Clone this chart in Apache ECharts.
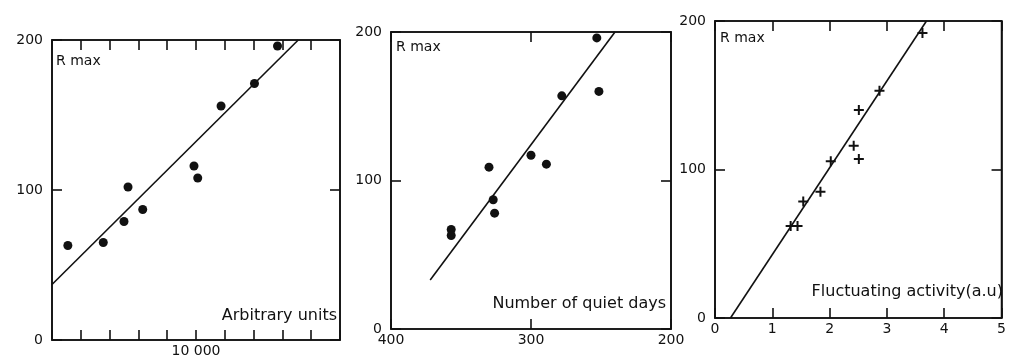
<!DOCTYPE html>
<html>
<head>
<meta charset="utf-8">
<script src="https://cdn.jsdelivr.net/npm/echarts@6/dist/echarts.min.js"></script>
<style>
  html, body { margin: 0; padding: 0; background: #fff; }
  #chart { width: 1009px; height: 358px; }
</style>
</head>
<body>
<div id="chart"></div>
<script>
// Panel A: R max against activity in arbitrary units
const arbUnits = [5550, 6780, 7500, 7640, 8150, 9930, 10060, 10870, 12030, 12830];
const rmaxA    = [63, 65, 79, 102, 87, 116, 108, 156, 171, 196];
const fitA     = [[5000, 37], [13550, 200]];

// Panel B: R max against number of quiet days (axis runs 400 -> 200)
const quietDays = [357, 357, 330, 327, 326, 300, 289, 278, 253, 251.5];
const rmaxB     = [67, 63, 109, 87, 78, 117, 111, 157, 196, 160];
const fitB      = [[372, 33], [240, 200]];

// Panel C: R max against fluctuating activity
const fluct = [1.32, 1.44, 1.54, 1.84, 2.02, 2.42, 2.51, 2.51, 2.87, 3.62];
const rmaxC = [62, 62, 78.5, 85, 105.5, 116, 140, 107, 153, 192];
const fitC  = [[0.27, 0], [3.69, 200]];

const yTicks = [0, 100, 200];
const xTicksA = { min: 5000, max: 15000, step: 1000, labelled: [10000] };
const xTicksB = { min: 200, max: 400, step: 100 };
const xTicksC = { min: 0, max: 5, step: 1 };

const ink = '#111';
const font = 'DejaVu Sans';
const plus = 'path://M4,0 L6,0 L6,4 L10,4 L10,6 L6,6 L6,10 L4,10 L4,6 L0,6 L0,4 L4,4 Z';

const pair = (xs, ys) => xs.map((x, i) => [x, ys[i]]);

function axisBase() {
  return {
    type: 'value',
    splitLine: { show: false },
    axisLine: { show: true, onZero: false, lineStyle: { color: ink, width: 1.6 } },
    axisTick: { show: true, inside: true, length: 10, lineStyle: { color: ink, width: 1.6 } }
  };
}

function yPair(gi) {
  const extra = { gridIndex: gi, min: yTicks[0], max: yTicks[yTicks.length - 1], interval: 100 };
  return [
    Object.assign(axisBase(), extra, {
      position: 'left',
      axisLabel: { show: true, color: ink, fontFamily: font, fontSize: 14, margin: 9 }
    }),
    Object.assign(axisBase(), extra, { position: 'right', axisLabel: { show: false } })
  ];
}

function xPair(gi, t, labelFmt, inverse) {
  const extra = { gridIndex: gi, min: t.min, max: t.max, interval: t.step, inverse: !!inverse };
  return [
    Object.assign(axisBase(), extra, {
      position: 'bottom',
      axisLabel: { show: true, color: ink, fontFamily: font, fontSize: 14, margin: 4,
                   formatter: labelFmt, showMinLabel: true, showMaxLabel: true }
    }),
    Object.assign(axisBase(), extra, { position: 'top', axisLabel: { show: false } })
  ];
}

const chart = echarts.init(document.getElementById('chart'), null, { renderer: 'canvas' });

const frame = { show: true, borderColor: ink, borderWidth: 1.6, backgroundColor: 'transparent' };
const dot = { color: ink, opacity: 1 };
const textStyle = (t, size) => ({ text: t, fill: ink, font: size + 'px "DejaVu Sans"' });

const option = {
  animation: false,
  backgroundColor: '#fff',
  grid: [
    Object.assign({ left: 52, width: 288, top: 40, height: 300 }, frame),
    Object.assign({ left: 391, width: 280, top: 32, height: 297 }, frame),
    Object.assign({ left: 715, width: 289, top: 21, height: 297 }, frame)
  ],
  xAxis: [].concat(
    xPair(0, xTicksA, v => (xTicksA.labelled.indexOf(v) >= 0 ? '10 000' : '')),
    xPair(1, xTicksB, v => String(v), true),
    xPair(2, xTicksC, v => String(v))
  ),
  yAxis: [].concat(yPair(0), yPair(1), yPair(2)),
  series: [
    { type: 'scatter', xAxisIndex: 0, yAxisIndex: 0, data: pair(arbUnits, rmaxA),
      symbol: 'circle', symbolSize: 9, itemStyle: dot },
    { type: 'line', xAxisIndex: 0, yAxisIndex: 0, data: fitA, symbol: 'none',
      lineStyle: { color: ink, width: 1.6 } },

    { type: 'scatter', xAxisIndex: 2, yAxisIndex: 2, data: pair(quietDays, rmaxB),
      symbol: 'circle', symbolSize: 9, itemStyle: dot },
    { type: 'line', xAxisIndex: 2, yAxisIndex: 2, data: fitB, symbol: 'none',
      lineStyle: { color: ink, width: 1.6 } },

    { type: 'scatter', xAxisIndex: 4, yAxisIndex: 4, data: pair(fluct, rmaxC),
      symbol: plus, symbolSize: 10, itemStyle: dot },
    { type: 'line', xAxisIndex: 4, yAxisIndex: 4, data: fitC, symbol: 'none',
      lineStyle: { color: ink, width: 1.6 } }
  ],
  graphic: [
    { type: 'text', left: 56, top: 54, style: textStyle('R max', 14) },
    { type: 'text', left: 396, top: 40, style: textStyle('R max', 14) },
    { type: 'text', left: 720, top: 31, style: textStyle('R max', 14) },

    { type: 'text', right: 672, top: 308, style: textStyle('Arbitrary units', 16) },
    { type: 'text', right: 343, top: 296, style: textStyle('Number of quiet days', 16) },
    { type: 'text', right: 6, top: 284, style: textStyle('Fluctuating activity(a.u)', 16) }
  ]
};

chart.setOption(option);
</script>
</body>
</html>
